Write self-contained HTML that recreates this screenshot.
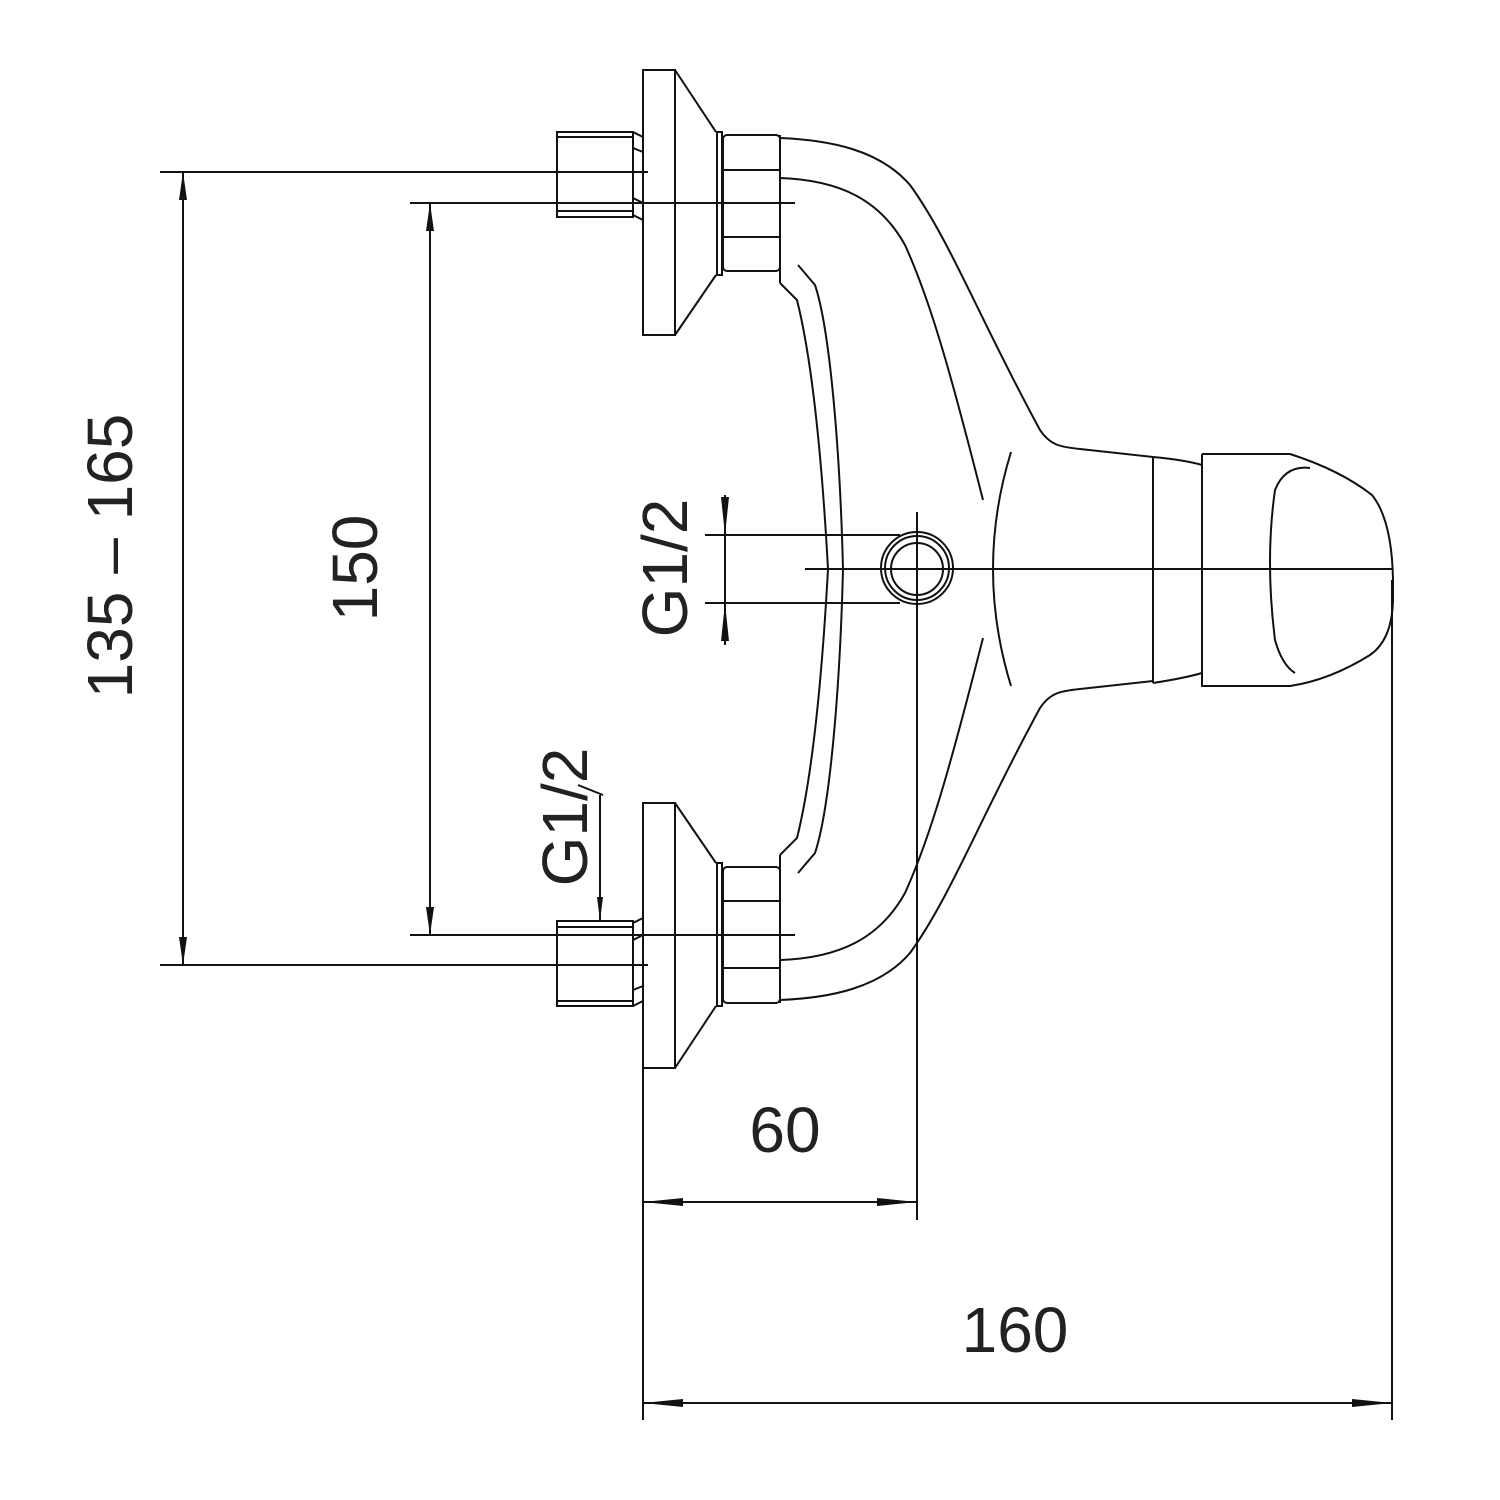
<!DOCTYPE html>
<html><head><meta charset="utf-8"><style>html,body{margin:0;padding:0;background:#fff}svg{display:block}</style></head>
<body>
<svg width="1500" height="1500" viewBox="0 0 1500 1500" xmlns="http://www.w3.org/2000/svg">
<defs>
<g id="fit" fill="none" stroke="#111" stroke-width="2">
<rect x="557" y="132" width="76" height="85"/>
<line x1="557" y1="137" x2="633" y2="137"/><line x1="557" y1="211" x2="633" y2="211"/>
<path d="M633 132 L643 137 M633 148 L643 152 M633 198 L643 203 M633 215 L643 220"/>
<rect x="643" y="70" width="32" height="265"/>
<path d="M675 70 L716 132 M675 335 L716 275"/>
<rect x="717" y="132" width="5" height="143"/>
<rect x="723" y="135" width="57" height="136" rx="4"/>
<line x1="723" y1="170" x2="780" y2="170"/><line x1="723" y1="237" x2="780" y2="237"/>
<line x1="780" y1="135" x2="780" y2="283"/>
<path d="M780 138 C830 140 880 150 910 185 C950 240 980 320 1040 430 C1050 445 1060 447 1080 449 L1153 457"/>
<path d="M780 178 C840 180 880 200 905 245 C930 300 950 370 983 500"/>
<path d="M780 283 L797 300 C812 360 822 460 828 569"/>
<path d="M798 265 L815 285 C830 330 840 450 843 569"/>
</g>
</defs>
<use href="#fit"/>
<use href="#fit" transform="translate(0,1138) scale(1,-1)"/>
<g fill="none" stroke="#111" stroke-width="2">
<!-- center lines -->
<line x1="160" y1="172" x2="648" y2="172"/><line x1="410" y1="203" x2="795" y2="203"/>
<line x1="410" y1="935" x2="795" y2="935"/><line x1="160" y1="965" x2="648" y2="965"/>
<line x1="805" y1="569" x2="1392" y2="569"/>
<line x1="917" y1="512" x2="917" y2="1220"/>
<line x1="705" y1="535" x2="900" y2="535"/><line x1="705" y1="603" x2="900" y2="603"/>
<circle cx="917" cy="568" r="36"/><circle cx="917" cy="568" r="32"/><circle cx="917" cy="569" r="26"/>
<!-- center body -->
<path d="M1011 452 Q975 569 1011 686"/>
<line x1="1153" y1="457" x2="1153" y2="683"/>
<path d="M1153 457 Q1185 460 1202 465 M1153 683 Q1185 678 1202 673"/>
<path d="M1202 454 L1208 454 M1202 454 L1202 686 L1208 686 L1208 686"/>
<path d="M1202 454 L1208 454 L1208 454"/>
<path d="M1208 454 L1208 454"/>
<path d="M1202 454 L1207 454 M1207 454 L1207 454"/>
<path d="M1207 454 L1290 454 Q1340 470 1372 495 Q1392 520 1393 580 L1393 600 Q1392 640 1370 655 Q1330 680 1290 686 L1202 686"/>
<path d="M1310 468 Q1285 465 1275 490 Q1265 560 1275 640 Q1282 665 1295 673"/>
<!-- dims -->
<line x1="183" y1="172" x2="183" y2="965"/>
<line x1="430" y1="203" x2="430" y2="935"/>
<line x1="725" y1="495" x2="725" y2="645"/>
<line x1="600" y1="795" x2="600" y2="921"/>
<line x1="578" y1="785" x2="603" y2="795"/>
<line x1="643" y1="1068" x2="643" y2="1420"/>
<line x1="1392" y1="580" x2="1392" y2="1420"/>
<line x1="643" y1="1202" x2="917" y2="1202"/>
<line x1="643" y1="1403" x2="1392" y2="1403"/>
</g>
<g fill="#111">
<polygon points="183,172 179,200 187,200"/><polygon points="183,965 179,937 187,937"/>
<polygon points="430,203 426,231 434,231"/><polygon points="430,935 426,907 434,907"/>
<polygon points="725,535 721,497 729,497"/><polygon points="725,603 721,641 729,641"/>
<polygon points="600,921 597,897 603,897"/>
<polygon points="643,1202 683,1198 683,1206"/><polygon points="917,1202 877,1198 877,1206"/>
<polygon points="643,1403 683,1399 683,1407"/><polygon points="1392,1403 1352,1399 1352,1407"/>
</g>
<g font-family="Liberation Sans, sans-serif" font-size="64" fill="#222" text-anchor="middle" font-weight="normal">
<text transform="translate(132,556) rotate(-90)">135 – 165</text>
<text transform="translate(377,568) rotate(-90)">150</text>
<text transform="translate(687,568) rotate(-90)">G1/2</text>
<text transform="translate(587,817) rotate(-90)">G1/2</text>
<text x="785" y="1152">60</text>
<text x="1015" y="1352">160</text>
</g>
</svg>
</body></html>
